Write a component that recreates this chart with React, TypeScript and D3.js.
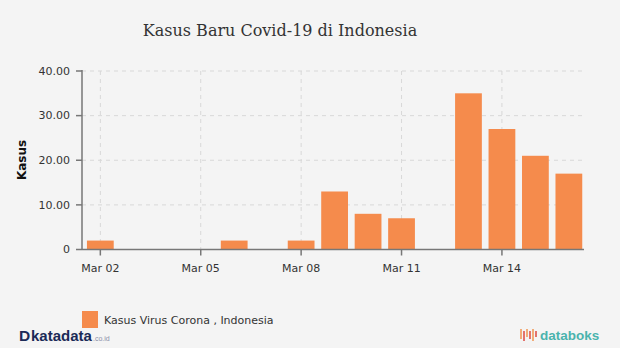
import React from "react";
import * as d3 from "d3";

const dates = ["2020-03-02","2020-03-03","2020-03-04","2020-03-05","2020-03-06","2020-03-07","2020-03-08","2020-03-09","2020-03-10","2020-03-11","2020-03-12","2020-03-13","2020-03-14","2020-03-15","2020-03-16"];
const kasus = [2, 0, 0, 0, 2, 0, 2, 13, 8, 7, 0, 35, 27, 21, 17];
const xTickDates = ["2020-03-02","2020-03-05","2020-03-08","2020-03-11","2020-03-14"];
const yTicks = [0, 10, 20, 30, 40];

const W = 620, H = 348;
const left = 82, right = 584, top = 71, bottom = 249.5;

export default function App() {
  const x = d3.scaleBand<string>().domain(dates).range([left + 1.6, right + 1.6]).paddingInner(0.2).paddingOuter(0.1);
  const y = d3.scaleLinear().domain([0, 40]).range([bottom, top]);
  const fmtDate = d3.timeFormat("%b %d");
  const parse = d3.timeParse("%Y-%m-%d");
  const cx = (d: string) => (x(d) as number) + x.bandwidth() / 2;
  const font = "Verdana, 'DejaVu Sans', sans-serif";
  return (
    <svg width={W} height={H} style={{ position: "absolute", left: 0, top: 0, display: "block" }}>
      <rect x={0} y={0} width={W} height={H} fill="#f4f4f4" />
      <text x={280} y={36} textAnchor="middle" fontFamily="'DejaVu Serif', serif" fontSize={16} fill="#333">Kasus Baru Covid-19 di Indonesia</text>
      {/* grid */}
      {yTicks.filter(t => t > 0).map(t => (
        <line key={"gy" + t} x1={left} x2={right} y1={y(t)} y2={y(t)} stroke="#d8d8d8" strokeDasharray="4,4" />
      ))}
      {xTickDates.map(d => (
        <line key={"gx" + d} x1={cx(d)} x2={cx(d)} y1={top} y2={bottom} stroke="#d8d8d8" strokeDasharray="4,4" />
      ))}
      {/* bars */}
      {dates.map((d, i) => kasus[i] > 0 ? (
        <rect key={d} x={x(d)} y={y(kasus[i])} width={x.bandwidth()} height={bottom - y(kasus[i])} fill="#f58b4c" />
      ) : null)}
      {/* axes */}
      <line x1={left} x2={left} y1={top - 1} y2={bottom} stroke="#777" strokeWidth={1.5} />
      <line x1={left} x2={right} y1={bottom} y2={bottom} stroke="#777" strokeWidth={1.5} />
      {yTicks.map(t => (
        <g key={"yt" + t}>
          <line x1={left - 6} x2={left} y1={y(t)} y2={y(t)} stroke="#777" strokeWidth={1.5} />
          <text x={70} y={y(t)} dy="0.35em" textAnchor="end" fontFamily={font} fontSize={11} fill="#333">{t === 0 ? "0" : t.toFixed(2)}</text>
        </g>
      ))}
      {xTickDates.map(d => (
        <g key={"xt" + d}>
          <line x1={cx(d)} x2={cx(d)} y1={bottom} y2={bottom + 6} stroke="#777" strokeWidth={1.5} />
          <text x={cx(d)} y={272} textAnchor="middle" fontFamily={font} fontSize={11} fill="#333">{fmtDate(parse(d) as Date)}</text>
        </g>
      ))}
      <text transform={`translate(26,160) rotate(-90)`} textAnchor="middle" fontFamily={font} fontSize={12} fontWeight="bold" fill="#111">Kasus</text>
      {/* legend */}
      <rect x={82} y={311} width={16} height={17} fill="#f58b4c" />
      <text x={104} y={324} fontFamily={font} fontSize={11} fill="#333">Kasus Virus Corona , Indonesia</text>
      {/* logos */}
      <text x={19} y={341} fontFamily="'Liberation Sans', Arial, sans-serif" fontWeight="bold" fontSize={15.5} fill="#1b2a57">D</text>
      <text x={31} y={341} fontFamily="'Liberation Sans', Arial, sans-serif" fontWeight="bold" fontSize={15} fill="#1b2a57">katadata</text>
      <text x={93} y={341} fontFamily="'Liberation Sans', Arial, sans-serif" fontSize={7} fill="#8a8fa8">.co.id</text>
      <g>
        {[0, 1, 2, 3, 4, 5].map(i => (
          <line key={"lg" + i} x1={521 + i * 3} x2={521 + i * 3} y1={329 + (i % 2) * 2} y2={337 + ((i + 1) % 3) * 2} stroke={i % 2 ? "#e0524a" : "#f29a5a"} strokeWidth={1.6} />
        ))}
      </g>
      <text x={540} y={340} fontFamily="'Liberation Sans', Arial, sans-serif" fontWeight="bold" fontSize={13.5} fill="#4ab3ad">databoks</text>
    </svg>
  );
}
